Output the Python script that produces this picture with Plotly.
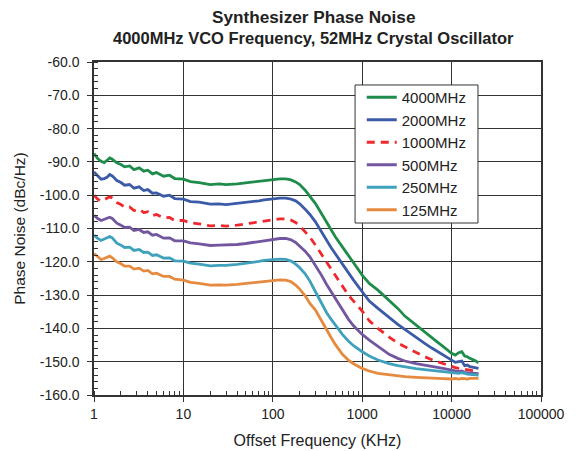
import plotly.graph_objects as go

freq = [1, 1.1, 1.2, 1.3, 1.4, 1.5, 1.6, 1.8, 2, 2.2, 2.5, 2.8, 3.2, 3.6, 4, 4.5, 5, 6, 7, 8,
        10, 12, 15, 20, 25, 30, 40, 50, 60, 70, 80, 100, 120, 140, 160, 180, 200, 230, 260, 300,
        350, 400, 450, 500, 600, 700, 800, 1000, 1200, 1500, 2000, 2500, 3000, 4000, 5000, 6000,
        7000, 8000, 10000, 11000, 12000, 13000, 14000, 15000, 16000, 18000, 20000]

pn_4000 = [-87.5, -89.0, -89.8, -90.2, -89.5, -88.8, -89.2, -90.3, -90.8, -91.5, -91.2, -92.3, -91.8, -92.8, -92.5, -93.6, -93.2, -94.3, -94.0, -95.0,
           -95.2, -95.9, -96.2, -96.8, -96.6, -96.8, -96.6, -96.3, -96.0, -95.8, -95.5, -95.3, -95.1, -95.1, -95.4, -96.0, -96.8, -98.5, -100.3, -102.5,
           -105.5, -108.2, -110.5, -112.5, -115.5, -118.2, -120.3, -124.0, -126.5, -128.5, -131.5, -134.0, -136.3, -139.0, -141.3, -143.0,
           -144.2, -145.4, -147.5, -148.0, -147.3, -147.0, -148.3, -148.5, -149.0, -149.6, -150.3]

pn_2000 = [-93.0, -94.2, -95.2, -95.0, -94.6, -93.8, -94.2, -95.6, -96.2, -97.0, -96.8, -97.9, -97.5, -98.6, -98.3, -99.4, -99.3, -100.3, -100.0, -101.0,
           -101.2, -101.9, -102.1, -102.7, -102.6, -102.8, -102.5, -102.2, -101.9, -101.7, -101.4, -101.1, -100.9, -100.9, -101.2, -101.7, -102.6, -104.2, -105.8, -108.0,
           -110.8, -113.5, -115.8, -117.6, -120.8, -123.5, -125.5, -129.0, -131.8, -134.0, -136.8, -138.8, -140.3, -142.8, -144.5, -145.9,
           -147.0, -148.0, -149.6, -150.2, -150.0, -149.8, -151.2, -151.0, -151.5, -151.8, -152.0]

pn_1000 = [-100.0, -101.2, -101.8, -101.4, -100.9, -100.5, -100.8, -102.2, -102.8, -103.6, -103.5, -104.6, -104.2, -105.2, -105.0, -106.1, -105.8, -106.8, -106.7, -107.6,
           -107.6, -108.3, -108.6, -109.2, -109.1, -109.3, -109.0, -108.7, -108.3, -108.0, -107.7, -107.4, -107.1, -107.1, -107.5, -108.2, -109.2, -111.0, -112.6, -115.0,
           -117.8, -120.2, -122.4, -124.2, -127.5, -130.0, -131.8, -134.8, -137.7, -140.0, -142.6, -144.4, -145.5, -147.3, -148.5, -149.4,
           -150.0, -150.7, -151.5, -151.8, -152.0, -152.0, -152.3, -152.4, -152.5, -152.7, -152.9]

pn_500 = [-106.0, -107.0, -107.6, -107.3, -106.9, -106.6, -107.0, -108.4, -109.0, -109.7, -109.6, -110.6, -110.3, -111.2, -111.0, -112.0, -111.8, -112.9, -112.8, -113.7,
          -113.7, -114.3, -114.6, -115.1, -115.0, -115.0, -114.8, -114.5, -114.2, -113.9, -113.6, -113.3, -113.0, -113.0, -113.4, -114.2, -115.2, -116.8, -118.5, -121.0,
          -124.0, -126.8, -129.0, -131.0, -134.5, -137.2, -139.2, -141.8, -143.5, -145.5, -147.8, -149.0, -149.8, -150.6, -151.0, -151.3,
          -151.6, -152.0, -152.5, -152.7, -153.0, -152.8, -153.2, -153.3, -153.4, -153.5, -153.6]

pn_250 = [-112.0, -113.0, -113.6, -113.2, -112.8, -112.4, -112.8, -114.4, -115.0, -115.7, -115.6, -116.6, -116.3, -117.2, -117.1, -118.1, -117.9, -118.9, -118.8, -119.7,
          -119.8, -120.4, -120.7, -121.2, -121.1, -121.1, -120.8, -120.5, -120.2, -119.9, -119.6, -119.4, -119.2, -119.3, -119.8, -120.7, -121.8, -123.6, -125.8, -129.0,
          -132.5, -135.3, -137.3, -139.0, -141.8, -143.8, -145.2, -147.0, -148.3, -149.5, -150.6, -151.2, -151.6, -152.1, -152.4, -152.6,
          -152.8, -153.0, -153.2, -153.3, -153.5, -153.3, -153.6, -153.7, -153.8, -153.9, -154.0]

pn_125 = [-117.5, -118.6, -119.3, -119.0, -118.6, -118.3, -118.8, -120.0, -120.6, -121.3, -121.3, -122.2, -121.9, -122.8, -122.6, -123.6, -123.4, -124.4, -124.4, -125.2,
          -125.5, -126.2, -126.5, -127.0, -126.9, -127.0, -126.8, -126.5, -126.2, -126.0, -125.8, -125.6, -125.4, -125.5, -126.0, -127.0, -128.2, -130.2, -132.5, -134.5,
          -137.8, -140.5, -142.8, -144.8, -147.8, -149.5, -150.6, -152.0, -152.8, -153.5, -154.0, -154.3, -154.5, -154.7, -154.9, -155.0,
          -155.1, -155.1, -155.2, -155.0, -155.2, -155.0, -155.1, -155.2, -155.0, -155.1, -155.0]

names = ["4000MHz", "2000MHz", "1000MHz", "500MHz", "250MHz", "125MHz"]
series = [pn_4000, pn_2000, pn_1000, pn_500, pn_250, pn_125]
colors = ["#1e8c4a", "#3b5ba8", "#f0282d", "#7356a0", "#3fa1bc", "#e58a3e"]
dashes = ["solid", "solid", "8px,6px", "solid", "solid", "solid"]

x_tickvals = [1, 10, 100, 1000, 10000, 100000]
x_ticktext = ["1", "10", "100", "1000", "10000", "100000"]
y_tickvals = [-60, -70, -80, -90, -100, -110, -120, -130, -140, -150, -160]
y_ticktext = ["-60.0", "-70.0", "-80.0", "-90.0", "-100.0", "-110.0", "-120.0",
              "-130.0", "-140.0", "-150.0", "-160.0"]

fig = go.Figure()
for n, s, c, d in zip(names, series, colors, dashes):
    fig.add_trace(go.Scatter(x=freq, y=s, mode="lines", name=n,
                             line=dict(color=c, width=2.8, dash=d)))

font = "Liberation Sans, Arial, sans-serif"
fig.update_layout(
    width=579, height=451,
    margin=dict(l=86, r=46, t=54, b=64, autoexpand=False),
    paper_bgcolor="white", plot_bgcolor="white",
    font=dict(family=font, color="#222", size=14),
    showlegend=True,
    legend=dict(x=0.599, y=0.943, xanchor="left", yanchor="top",
                borderwidth=0, bgcolor="rgba(0,0,0,0)",
                font=dict(size=15, family=font, color="#222"),
                itemwidth=30, tracegroupgap=0),
    shapes=[dict(type="rect", xref="paper", yref="paper",
                 x0=0.584, x1=0.859, y0=0.5165, y1=0.931,
                 line=dict(color="#333", width=1), fillcolor="white", layer="above")],
    annotations=[
        dict(text="<b>Synthesizer Phase Noise</b>", xref="paper", yref="paper",
             x=0.49, y=1, yshift=45, yanchor="middle", showarrow=False,
             font=dict(size=17.2, family=font, color="#222")),
        dict(text="<b>4000MHz VCO Frequency, 52MHz Crystal Oscillator</b>", xref="paper", yref="paper",
             x=0.49, y=1, yshift=24, yanchor="middle", showarrow=False,
             font=dict(size=16.5, family=font, color="#222")),
    ],
)

fig.update_xaxes(type="log", range=[0, 5], tickvals=x_tickvals, ticktext=x_ticktext,
                 automargin=False,
                 showgrid=True, gridcolor="#333", gridwidth=1,
                 showline=True, linecolor="#333", linewidth=1.5, mirror=True,
                 ticks="outside", ticklen=5, tickcolor="#333",
                 minor=dict(dtick="D1", ticks="inside", ticklen=4, tickcolor="#333", showgrid=False),
                 tickfont=dict(size=14),
                 title=dict(text="Offset Frequency (KHz)", font=dict(size=16), standoff=14),
                 zeroline=False)
fig.update_yaxes(range=[-160, -60], tickvals=y_tickvals, ticktext=y_ticktext,
                 automargin=False,
                 showgrid=True, gridcolor="#333", gridwidth=1,
                 showline=True, linecolor="#333", linewidth=1.5, mirror=True,
                 ticks="outside", ticklen=5, tickcolor="#333", ticklabelstandoff=5,
                 minor=dict(dtick=2, ticks="inside", ticklen=4, tickcolor="#333", showgrid=False),
                 tickfont=dict(size=14),
                 title=dict(text="Phase Noise (dBc/Hz)", font=dict(size=15.5), standoff=10),
                 zeroline=False)

fig.write_html("out.html")
